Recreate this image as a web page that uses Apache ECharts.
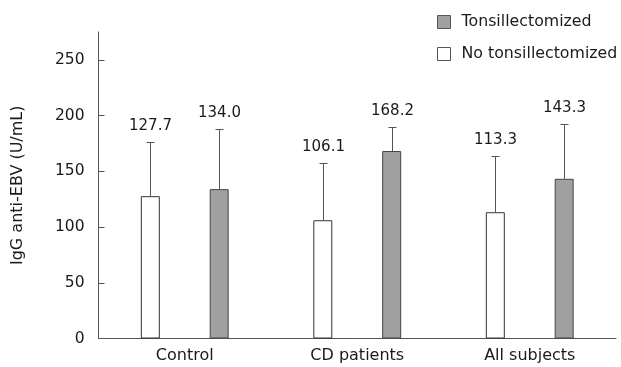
<!DOCTYPE html>
<html><head><meta charset="utf-8">
<script src="https://cdn.jsdelivr.net/npm/echarts@6/dist/echarts.min.js"></script>
<style>html,body{margin:0;padding:0;background:#fff}#c{width:621px;height:367px}</style>
</head><body><div id="c"></div>
<script>
var categories = ['Control', 'CD patients', 'All subjects'];
var noTonsMean = [127.7, 106.1, 113.3];
var noTonsSD = [49.0, 51.4, 50.8];
var tonsMean = [134.0, 168.2, 143.3];
var tonsSD = [53.8, 21.4, 49.0];
var yTicks = [0, 50, 100, 150, 200, 250];

var FONT = 'DejaVu Sans';
var chart = echarts.init(document.getElementById('c'));

function errData(means, sds){
  return means.map(function(m, i){ return [i, m, sds[i]]; });
}
function errSeries(name, means, sds, frac){
  return {
    type: 'custom', name: name + ' err', z: 5,
    data: errData(means, sds),
    renderItem: function(params, api){
      var cat = api.value(0), mean = api.value(1), sd = api.value(2);
      var base = api.coord([cat, mean]);
      var top = api.coord([cat, mean + sd]);
      var band = api.size([1, 0])[0];
      var x = Math.round(base[0] + frac * band) + 0.5;
      var ty = Math.round(top[1]) + 0.5;
      return {type: 'group', children: [
        {type: 'line', shape: {x1: x, y1: base[1], x2: x, y2: ty}, style: {stroke: '#555', lineWidth: 1}},
        {type: 'line', shape: {x1: x - 4, y1: ty, x2: x + 4, y2: ty}, style: {stroke: '#555', lineWidth: 1}},
        {type: 'text', style: {text: mean.toFixed(1), x: x, y: ty - 9, textAlign: 'center', textVerticalAlign: 'bottom', font: '15px ' + FONT, fill: '#1a1a1a'}}
      ]};
    }
  };
}

chart.setOption({
  animation: false,
  grid: {left: 98.5, right: 5, top: 32, bottom: 28.5},
  legend: {
    orient: 'vertical', left: 432, top: 9,
    itemWidth: 13, itemHeight: 13, itemGap: 16, icon: 'rect',
    itemStyle: {borderColor: '#555', borderWidth: 1},
    data: ['Tonsillectomized', 'No tonsillectomized'],
    textStyle: {fontFamily: FONT, fontSize: 15.8, color: '#1a1a1a', padding: [0,0,0,6]}
  },
  xAxis: {
    type: 'category', data: categories,
    axisLine: {lineStyle: {color: '#555', width: 1}},
    axisTick: {show: false},
    axisLabel: {fontFamily: FONT, fontSize: 16, color: '#1a1a1a', margin: 9}
  },
  yAxis: {
    type: 'value', min: 0, max: 275, interval: 25,
    name: 'IgG anti-EBV (U/mL)', nameLocation: 'middle', nameGap: 73,
    nameTextStyle: {fontFamily: FONT, fontSize: 16, color: '#1a1a1a'},
    axisLine: {show: true, lineStyle: {color: '#555', width: 1}},
    axisTick: {show: true, inside: true, length: 6, lineStyle: {color: '#555'}, customValues: yTicks},
    axisLabel: {fontFamily: FONT, fontSize: 15.5, color: '#1a1a1a', margin: 14, customValues: yTicks},
    splitLine: {show: false}
  },
  series: [
    {type: 'bar', name: 'No tonsillectomized', data: noTonsMean, barWidth: '11%', barGap: '263%',
     itemStyle: {color: '#ffffff', borderColor: '#333', borderWidth: 1}},
    {type: 'bar', name: 'Tonsillectomized', data: tonsMean, barWidth: '11%',
     itemStyle: {color: '#a0a0a0', borderColor: '#444', borderWidth: 1}},
    errSeries('No tonsillectomized', noTonsMean, noTonsSD, -0.2),
    errSeries('Tonsillectomized', tonsMean, tonsSD, 0.2)
  ]
});
</script></body></html>
